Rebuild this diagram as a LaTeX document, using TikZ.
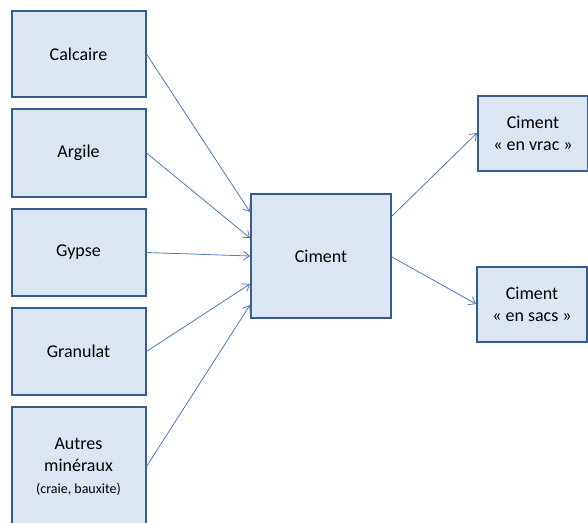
\documentclass[tikz,border=0pt]{standalone}
\usepackage{fontspec}
\setmainfont{Carlito}
\usetikzlibrary{positioning,arrows.meta}

\definecolor{boxfill}{HTML}{DCE6F2}
\definecolor{boxline}{HTML}{385D8A}
\definecolor{flow}{HTML}{4A7EBB}

\tikzset{
  box/.style={draw=boxline, fill=boxfill, line width=2pt, align=center,
    font=\fontsize{18}{22}\selectfont, inner sep=2pt},
  flow/.style={->, draw=flow, line width=0.8pt}
}

\begin{document}
\begin{tikzpicture}[x=1pt,y=-1pt,>={Straight Barb[length=6pt,width=9pt]}]
\useasboundingbox (0,0) rectangle (588,522);
% raw materials
\node[box, minimum width=134pt, minimum height=86pt] at (78.5,54) (calc) {Calcaire};
\node[box, minimum width=134pt, minimum height=88pt, below=10pt of calc] (arg) {Argile};
\node[box, minimum width=134pt, minimum height=87pt, below=10pt of arg] (gyp) {Gypse};
\node[box, minimum width=134pt, minimum height=87pt, below=10pt of gyp] (gran) {Granulat};
\node[box, minimum width=134pt, minimum height=119pt, below=10pt of gran] (autres)
  {Autres\\minéraux\\{\fontsize{14}{17}\selectfont (craie, bauxite)}};
% plant and products
\node[box, minimum width=140pt, minimum height=124pt] at (321,256) (ciment) {Ciment};
\node[box, minimum width=110pt, minimum height=75pt] at (533,133) (vrac) {Ciment\\« en vrac »};
\node[box, minimum width=110pt, minimum height=75pt] at (532,304) (sacs) {Ciment\\« en sacs »};

\draw[flow] (calc.east) -- ([yshift=44pt]ciment.west);
\draw[flow] (arg.east) -- ([yshift=18pt]ciment.west);
\draw[flow] (gyp.east) -- (ciment.west);
\draw[flow] (gran.east) -- ([yshift=-28pt]ciment.west);
\draw[flow] (autres.east) -- ([yshift=-49pt]ciment.west);
\draw[flow] ([yshift=40pt]ciment.east) -- (vrac.west);
\draw[flow] ([yshift=-1pt]ciment.east) -- (sacs.west);
\end{tikzpicture}
\end{document}
